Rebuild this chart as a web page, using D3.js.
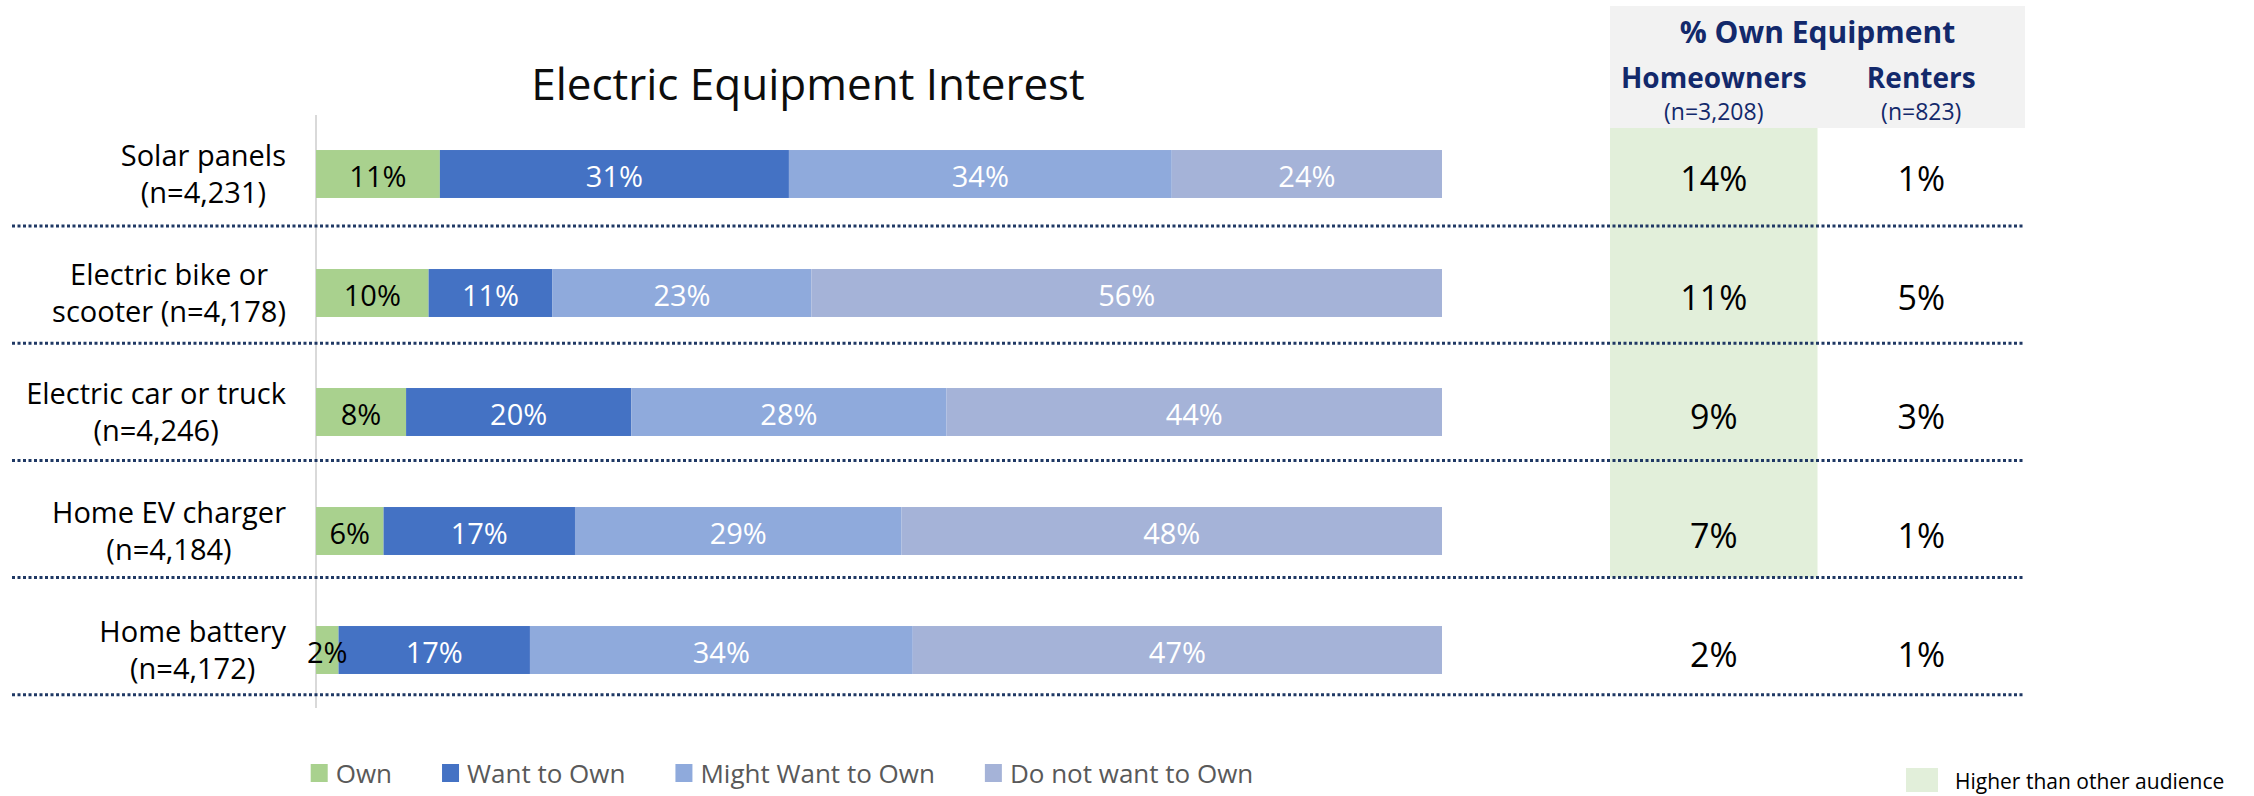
<!DOCTYPE html>
<html>
<head>
<meta charset="utf-8">
<script src="https://cdn.jsdelivr.net/npm/d3@7"></script>
<style>
  body { margin: 0; background: #ffffff; }
  svg { display: block; font-family: "Open Sans", Lato, sans-serif; }
  .bar-label { font-size: 29px; text-anchor: middle; dominant-baseline: central; }
  .cat-label { font-size: 29px; fill: #000; }
  .table-value { font-size: 34px; text-anchor: middle; fill: #000; }
  .legend-text { font-size: 26px; fill: #595959; }
</style>
</head>
<body>
<div id="chart"></div>
<script>
// Chart data
var categories = ["Solar panels", "Electric bike or", "Electric car or truck", "Home EV charger", "Home battery"];
var sampleLabels = ["(n=4,231)", "scooter (n=4,178)", "(n=4,246)", "(n=4,184)", "(n=4,172)"];
var seriesNames = ["Own", "Want to Own", "Might Want to Own", "Do not want to Own"];
var own = [11, 10, 8, 6, 2];
var wantToOwn = [31, 11, 20, 17, 17];
var mightWant = [34, 23, 28, 29, 34];
var doNotWant = [24, 56, 44, 48, 47];

// % Own Equipment table
var audiences = ["Homeowners", "Renters"];
var audienceN = ["(n=3,208)", "(n=823)"];
var homeownersOwn = [14, 11, 9, 7, 2];
var rentersOwn = [1, 5, 3, 1, 1];
var homeownersHigher = [true, true, true, true, false];

const width = 2254;
const height = 796;

const colors = ["#A9D18E", "#4472C4", "#8FAADC", "#A5B3D8"];
const labelColors = ["#000000", "#ffffff", "#ffffff", "#ffffff"];

// Build table for d3.stack
var rows = categories.map(function(c, i) {
   return { cat: c, "Own": own[i], "Want to Own": wantToOwn[i], "Might Want to Own": mightWant[i], "Do not want to Own": doNotWant[i] };
});
var stacked = d3.stack().keys(seriesNames)(rows);

const svg = d3.select("#chart")
              .append("svg")
              .attr("width", width)
              .attr("height", height);

const x = d3.scaleLinear().domain([0, 100]).range([316, 1442]);
const y = d3.scaleBand().domain(categories).range([114.5, 709.5]).paddingInner(0.597).paddingOuter(0.2985);
const barH = y.bandwidth();

// separator under each row
function sepY(d, i) { return y(d) + barH / 2 + 52 - i * 1.8; }

// Column positions for the ownership table
const col = d3.scaleBand().domain(audiences).range([1610, 2025]);

// Header box
svg.append("rect")
   .attr("x", 1610).attr("y", 6)
   .attr("width", 2025 - 1610).attr("height", 122)
   .attr("fill", "#F2F2F2");

// Highlight column: from header down to the separator under the last highlighted row
var lastHigh = homeownersHigher.lastIndexOf(true);
svg.append("rect")
   .attr("x", col("Homeowners"))
   .attr("width", col.bandwidth())
   .attr("y", 128)
   .attr("height", sepY(categories[lastHigh], lastHigh) - 128)
   .attr("fill", "#E2EFDA");

// Vertical axis line
svg.append("line")
   .attr("x1", x(0)).attr("x2", x(0))
   .attr("y1", 115).attr("y2", 708)
   .attr("stroke", "#D9D9D9")
   .attr("stroke-width", 2);

// Dotted separators under each row
svg.append("g")
   .selectAll("line")
   .data(categories)
   .enter()
   .append("line")
   .attr("x1", 12).attr("x2", 2025)
   .attr("y1", sepY)
   .attr("y2", sepY)
   .attr("stroke", "#1F3864")
   .attr("stroke-width", 3)
   .attr("stroke-dasharray", "3 2.5");

// Stacked bars
var layers = svg.append("g")
   .selectAll("g")
   .data(stacked)
   .enter()
   .append("g")
   .attr("fill", function(d, i) { return colors[i]; });

layers.selectAll("rect")
   .data(function(d) { return d; })
   .enter()
   .append("rect")
   .attr("x", function(d) { return x(d[0]); })
   .attr("y", function(d) { return y(d.data.cat); })
   .attr("width", function(d) { return x(d[1]) - x(d[0]); })
   .attr("height", barH);

// Value labels inside bars
stacked.forEach(function(layer, li) {
   svg.append("g")
      .selectAll("text")
      .data(layer)
      .enter()
      .append("text")
      .attr("class", "bar-label")
      .attr("x", function(d) { return (x(d[0]) + x(d[1])) / 2; })
      .attr("y", function(d) { return y(d.data.cat) + barH / 2 + 1; })
      .attr("fill", labelColors[li])
      .text(function(d) { return (d[1] - d[0]) + "%"; });
});

// Category labels: two lines, centred in a block that ends at the axis
categories.forEach(function(c, i) {
   var g = svg.append("g");
   var cy = y(c) + barH / 2;
   var t1 = g.append("text").attr("class", "cat-label").attr("y", cy - 8).text(c);
   var t2 = g.append("text").attr("class", "cat-label").attr("y", cy + 29).text(sampleLabels[i]);
   var w1 = t1.node().getComputedTextLength();
   var w2 = t2.node().getComputedTextLength();
   var mid = 286 - Math.max(w1, w2) / 2;
   t1.attr("x", mid).attr("text-anchor", "middle");
   t2.attr("x", mid).attr("text-anchor", "middle");
});

// Title
svg.append("text")
   .attr("x", 808).attr("y", 100)
   .attr("text-anchor", "middle")
   .style("font-size", "44px")
   .attr("fill", "#0D0D0D")
   .text("Electric Equipment Interest");

// Table header
svg.append("text")
   .attr("x", 1817.5).attr("y", 43)
   .attr("text-anchor", "middle")
   .style("font-size", "30px").style("font-weight", "bold")
   .attr("fill", "#13296B")
   .text("% Own Equipment");

svg.append("g")
   .selectAll("text")
   .data(audiences)
   .enter()
   .append("text")
   .attr("x", function(d) { return col(d) + col.bandwidth() / 2; })
   .attr("y", 88)
   .attr("text-anchor", "middle")
   .style("font-size", "28px").style("font-weight", "bold")
   .attr("fill", "#13296B")
   .text(function(d) { return d; });

svg.append("g")
   .selectAll("text")
   .data(audienceN)
   .enter()
   .append("text")
   .attr("x", function(d, i) { return col(audiences[i]) + col.bandwidth() / 2; })
   .attr("y", 120)
   .attr("text-anchor", "middle")
   .style("font-size", "23px")
   .attr("fill", "#13296B")
   .text(function(d) { return d; });

// Table values
[homeownersOwn, rentersOwn].forEach(function(vals, ai) {
   svg.append("g")
      .selectAll("text")
      .data(vals)
      .enter()
      .append("text")
      .attr("class", "table-value")
      .attr("x", col(audiences[ai]) + col.bandwidth() / 2)
      .attr("y", function(d, i) { return y(categories[i]) + barH / 2 + 17; })
      .text(function(d) { return d + "%"; });
});

// Series legend
var legend = svg.append("g");
var lx = 0;
seriesNames.forEach(function(name, i) {
   var item = legend.append("g").attr("transform", "translate(" + lx + ",0)");
   item.append("rect")
      .attr("x", 0).attr("y", 764)
      .attr("width", 17).attr("height", 18)
      .attr("fill", colors[i]);
   var t = item.append("text")
      .attr("class", "legend-text")
      .attr("x", 25).attr("y", 783)
      .text(name);
   lx += 25 + t.node().getComputedTextLength() + 50;
});
lx -= 50;
legend.attr("transform", "translate(" + (782 - lx / 2) + ",0)");

// Highlight legend
svg.append("rect")
   .attr("x", 1906).attr("y", 768)
   .attr("width", 32).attr("height", 24)
   .attr("fill", "#E2EFDA");
svg.append("text")
   .attr("x", 1955).attr("y", 789)
   .style("font-size", "21px")
   .attr("fill", "#000")
   .text("Higher than other audience");
</script>
</body>
</html>
